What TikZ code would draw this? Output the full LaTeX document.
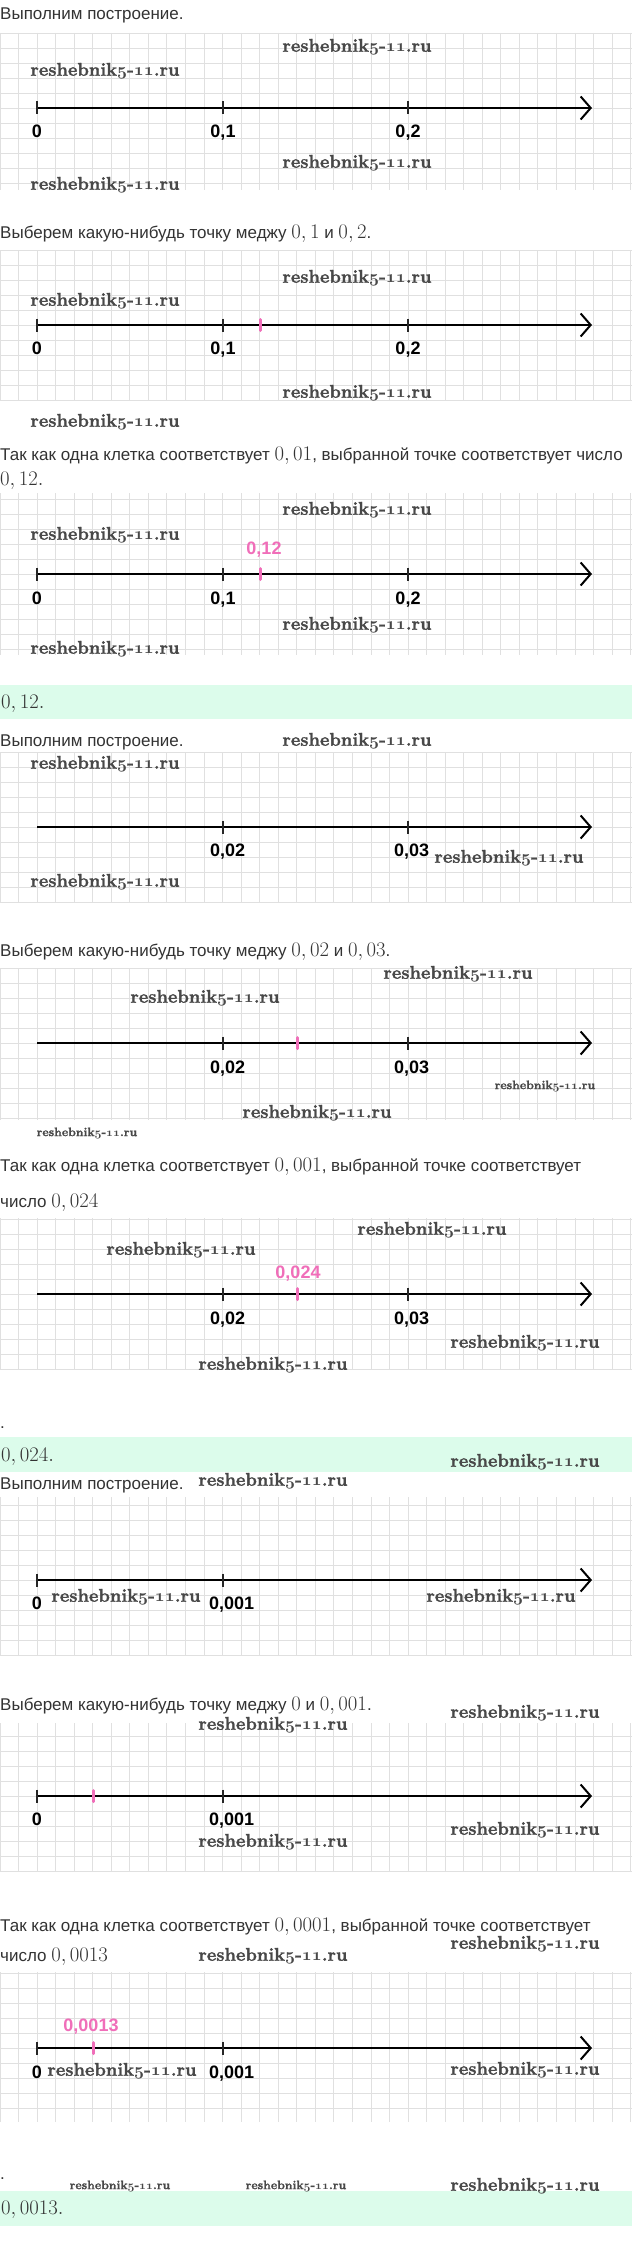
\documentclass[tikz,border=0pt]{standalone}
\usepackage{fontspec}
\usetikzlibrary{arrows.meta}
\newfontfamily\bodyfont{Liberation Sans}
\newfontfamily\wmfont[BoldFeatures={FakeBold=1.5}]{Latin Modern Roman}
\definecolor{txt}{HTML}{333333}
\definecolor{gridc}{HTML}{E0E0E0}
\definecolor{mint}{HTML}{DCFCEB}
\definecolor{pinkc}{HTML}{F06EB9}
\definecolor{wmc}{HTML}{484848}
\newcommand\mth[1]{{\fontsize{20.5}{24}\selectfont$#1$}}
\newcommand\osn[1]{{\usefont{OML}{cmm}{b}{it}#1}}
\newcommand\wmtext{reshebnik\osn{5}-\osn{11}.ru}
\tikzset{
  body/.style={anchor=base west, inner sep=0pt, text=txt, font=\bodyfont\fontsize{17}{20}\selectfont},
  wmbig/.style={inner sep=0pt, text=wmc, font=\wmfont\bfseries\fontsize{18.4}{20}\selectfont},
  wmsmall/.style={inner sep=0pt, text=wmc, font=\wmfont\bfseries\fontsize{12.3}{14}\selectfont},
  lab/.style={anchor=base, inner sep=0pt, text=black, font=\bodyfont\bfseries\fontsize{18}{20}\selectfont},
  labw/.style={lab, anchor=base west},
  plab/.style={lab, text=pinkc},
  axisline/.style={line width=2pt, black, -{Straight Barb[length=10pt,width=23pt,line width=2pt]}},
  tickline/.style={line width=1.6pt, black!85},
  ptickline/.style={line width=3pt, pinkc, line cap=round},
  gridline/.style={gridc, line width=0.8pt},
}
\newcommand\gridpanel[3]{%
  \begin{scope}
    \clip (0,#1) rectangle (632,#2);
    \foreach \k in {-2,...,33} \draw[gridline] ({37+18.55*\k},#1) -- ({37+18.55*\k},#2);
    \foreach \k in {-12,...,12} \draw[gridline] (0,{#3+15*\k}) -- (632,{#3+15*\k});
  \end{scope}}
\newcommand\tk[2]{\draw[tickline] (#1,{#2-6.5}) -- (#1,{#2+6.5});}
\newcommand\ptk[2]{\draw[ptickline] (#1,{#2-5.5}) -- (#1,{#2+5.5});}
\begin{document}
\begin{tikzpicture}[x=1pt,y=-1pt]
\useasboundingbox (0,0) rectangle (632,2258);
\fill[white] (0,0) rectangle (632,2258);
% grids
\gridpanel{33}{190}{108}
\gridpanel{251}{400}{325}
\gridpanel{493}{655}{574}
\gridpanel{752}{903}{827}
\gridpanel{968}{1120}{1043}
\gridpanel{1218}{1369}{1294}
\gridpanel{1497}{1656}{1580}
\gridpanel{1723}{1872}{1796}
\gridpanel{1972}{2122}{2048}
% answer bars
\fill[mint] (0,685) rectangle (632,719);
\fill[mint] (0,1437) rectangle (632,1472);
\fill[mint] (0,2191) rectangle (632,2226);
% body texts
\node[body] (t1) at (0,20) {Выполним построение.};
\node[body] (t2) at (0,239) {Выберем какую-нибудь точку меджу \mth{0,1} и \mth{0,2}.};
\node[body] (t3) at (0,460) {Так как одна клетка соответствует \mth{0,01}, выбранной точке соответствует число};
\node[body] (t4) at (0,485) {\mth{0,12.}};
\node[body] (t5) at (1,708) {\mth{0,12.}};
\node[body] (t6) at (0,746) {Выполним построение.};
\node[body] (t7) at (0,956) {Выберем какую-нибудь точку меджу \mth{0,02} и \mth{0,03}.};
\node[body] (t8) at (0,1171) {Так как одна клетка соответствует \mth{0,001}, выбранной точке соответствует};
\node[body] (t9) at (0,1207) {число \mth{0,024}};
\node[body] (t10) at (0,1428) {.};
\node[body] (t11) at (1,1461) {\mth{0,024.}};
\node[body] (t12) at (0,1489) {Выполним построение.};
\node[body] (t13) at (0,1710) {Выберем какую-нибудь точку меджу \mth{0} и \mth{0,001}.};
\node[body] (t14) at (0,1931) {Так как одна клетка соответствует \mth{0,0001}, выбранной точке соответствует};
\node[body] (t15) at (0,1961) {число \mth{0,0013}};
\node[body] (t16) at (0,2179) {.};
\node[body] (t17) at (1,2214) {\mth{0,0013.}};
% axes
\foreach \n/\y in {1/108,2/325,3/574,4/827,5/1043,6/1294,7/1580,8/1796,9/2048}{
  \coordinate (s\n) at (37,\y);
  \coordinate (e\n) at (592,\y);
  \draw[axisline] (s\n) -- (e\n);
}
% ticks
\foreach \y in {108,325,574}{\tk{37}{\y}\tk{223}{\y}\tk{408}{\y}}
\foreach \y in {827,1043,1294}{\tk{223}{\y}\tk{408}{\y}}
\foreach \y in {1580,1796,2048}{\tk{37}{\y}\tk{223}{\y}}
\ptk{260}{325}\ptk{260}{574}
\ptk{297}{1043}\ptk{297}{1294}
\ptk{93}{1796}\ptk{93}{2048}
% labels
\node[lab] (l1a) at (37,137.5) {0};
\node[lab] (l1b) at (223,137.5) {0,1};
\node[lab] (l1c) at (408,137.5) {0,2};
\node[lab] (l2a) at (37,354.5) {0};
\node[lab] (l2b) at (223,354.5) {0,1};
\node[lab] (l2c) at (408,354.5) {0,2};
\node[lab] (l3a) at (37,604.5) {0};
\node[lab] (l3b) at (223,604.5) {0,1};
\node[lab] (l3c) at (408,604.5) {0,2};
\node[plab] (p3) at (264,554.5) {0,12};
\node[labw] (l4b) at (210,856.5) {0,02};
\node[labw] (l4c) at (394,856.5) {0,03};
\node[labw] (l5b) at (210,1073.5) {0,02};
\node[labw] (l5c) at (394,1073.5) {0,03};
\node[labw] (l6b) at (210,1324.5) {0,02};
\node[labw] (l6c) at (394,1324.5) {0,03};
\node[plab] (p6) at (298,1278.5) {0,024};
\node[lab] (l7a) at (37,1609.5) {0};
\node[labw] (l7b) at (209,1609.5) {0,001};
\node[lab] (l8a) at (37,1825.5) {0};
\node[labw] (l8b) at (209,1825.5) {0,001};
\node[lab] (l9a) at (37,2078.5) {0};
\node[labw] (l9b) at (209,2078.5) {0,001};
\node[plab] (p9) at (91,2031.5) {0,0013};
% watermarks
\foreach \i/\x/\y in {1/357/47,2/105/71,3/357/163,4/105/185,5/357/278,6/105/301,7/357/393,8/105/422,
  9/357/510,10/105/535,11/357/625,12/105/649,13/357/741,14/105/764,15/509/858,16/105/882,
  17/458/974,18/205/998,19/317/1113,20/432/1230,21/181/1250,22/525/1343,23/273/1365,
  24/525/1462,25/273/1481,26/126/1597,27/501/1597,28/525/1713,29/273/1725,30/525/1830,
  31/273/1842,32/525/1944,33/273/1956,34/122/2071,35/525/2070,36/525/2186}{
  \node[wmbig] (w\i) at (\x,\y) {\wmtext};
}
\foreach \i/\x/\y in {1/545/1086,2/87/1133,3/120/2186,4/296/2186}{
  \node[wmsmall] (ws\i) at (\x,\y) {\wmtext};
}
\end{tikzpicture}
\end{document}
